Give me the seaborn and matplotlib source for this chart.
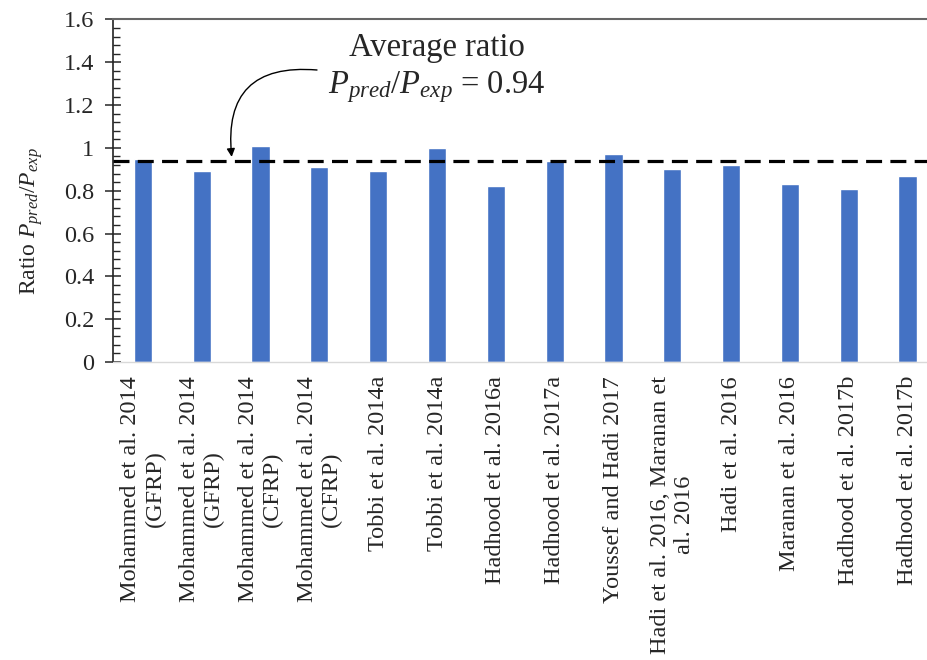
import numpy as np
import pandas as pd
import matplotlib
matplotlib.use("Agg")
import matplotlib.pyplot as plt
from matplotlib.ticker import MultipleLocator
import seaborn as sns

# Study labels (one bar per test group) and predicted/experimental ratios
studies = [
    "Mohammed et al. 2014\n(GFRP)",
    "Mohammed et al. 2014\n(GFRP)",
    "Mohammed et al. 2014\n(CFRP)",
    "Mohammed et al. 2014\n(CFRP)",
    "Tobbi et al. 2014a",
    "Tobbi et al. 2014a",
    "Hadhood et al. 2016a",
    "Hadhood et al. 2017a",
    "Youssef and Hadi 2017",
    "Hadi et al. 2016, Maranan et\nal. 2016",
    "Hadi et al. 2016",
    "Maranan et al. 2016",
    "Hadhood et al. 2017b",
    "Hadhood et al. 2017b",
]
ratios = [0.95, 0.89, 1.01, 0.91, 0.89, 1.00, 0.82, 0.94, 0.97, 0.90, 0.92, 0.83, 0.81, 0.87]
average_ratio = 0.94
y_tick_labels = ["0", "0.2", "0.4", "0.6", "0.8", "1", "1.2", "1.4", "1.6"]

sns.set_style("ticks")
plt.rcParams["font.family"] = ["Liberation Serif", "DejaVu Serif"]
plt.rcParams["mathtext.fontset"] = "custom"
plt.rcParams["mathtext.rm"] = "Liberation Serif"
plt.rcParams["mathtext.it"] = "Liberation Serif:italic"

df = pd.DataFrame({"slot": np.arange(len(studies)), "ratio": ratios})

fig = plt.figure(figsize=(9.27, 6.6), dpi=100)
ax = fig.add_axes([0.1224, 0.4515, 0.8884, 0.519])

sns.barplot(data=df, x="slot", y="ratio", color="#4472C4", saturation=1,
            width=0.31, ax=ax)

ax.axhline(average_ratio, color="black", lw=2.3, ls=(0, (5, 2.6)), zorder=5)

ax.set_ylim(0, 1.6)
ax.set_xlim(-0.5, len(studies) - 0.5)
ax.yaxis.set_minor_locator(MultipleLocator(0.04))
ax.set_yticks(np.arange(0, 1.61, 0.2))
ax.set_yticklabels(y_tick_labels, fontsize=17.5)
ax.tick_params(axis="y", which="major", direction="inout", length=12, width=1.1,
               pad=8)
ax.tick_params(axis="y", which="minor", direction="in", length=5, width=1.0)

ax.set_xticks(df["slot"])
ax.set_xticklabels(studies, rotation=90, fontsize=17.5, ha="center", va="top",
                   multialignment="center")
ax.tick_params(axis="x", length=0, pad=10)

ax.set_xlabel("")
ax.set_ylabel(r"Ratio $P_{pred}/P_{exp}$", fontsize=17)
ax.yaxis.set_label_coords(-0.083, 0.41)

ax.spines["left"].set_color("#222222")
ax.spines["left"].set_linewidth(1.2)
ax.spines["top"].set_color("#666666")
ax.spines["top"].set_linewidth(1.5)
ax.spines["bottom"].set_color("#d9d9d9")
ax.spines["bottom"].set_linewidth(1.0)
ax.spines["right"].set_visible(False)

ax.text(5.0, 1.43, "Average ratio", fontsize=23.5, ha="center", va="baseline")
ax.text(5.0, 1.255, r"$P_{pred}/P_{exp}$ = 0.94", fontsize=23.5, ha="center",
        va="baseline")

ax.annotate("", xy=(1.51, 0.958), xytext=(2.96, 1.364),
            arrowprops=dict(arrowstyle="-|>", color="black", lw=1.0,
                            connectionstyle="arc3,rad=0.6",
                            shrinkA=0, shrinkB=0, mutation_scale=12))

fig.savefig("out.png", dpi=100)
